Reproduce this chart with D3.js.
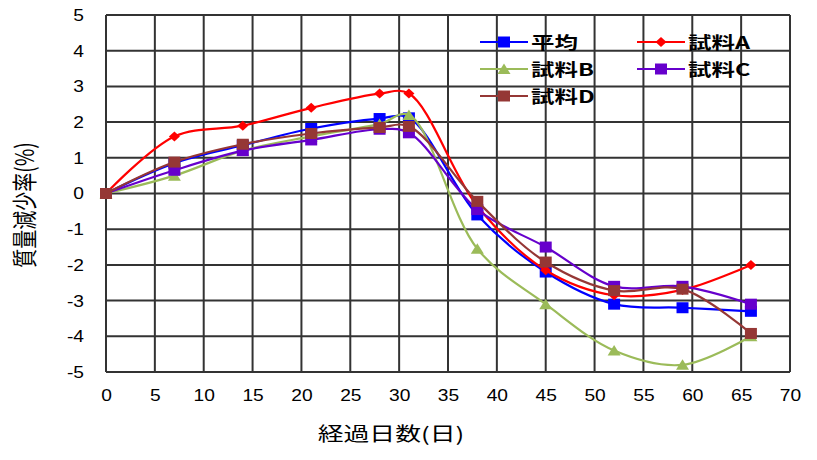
<!DOCTYPE html>
<html>
<head>
<meta charset="utf-8">
<script src="https://cdn.jsdelivr.net/npm/d3@7"></script>
<style>
  html, body { margin: 0; padding: 0; background: #fff; }
  svg { display: block; }
</style>
</head>
<body>
<svg id="chart" width="817" height="460"></svg>
<script>
// ---- data ----
const days = [0, 7, 14, 21, 28, 31, 38, 45, 52, 59, 66];
const seriesNames = ["平均", "試料A", "試料B", "試料C", "試料D"];
const avgValues = [0, 0.85, 1.35, 1.82, 2.1, 2.12, -0.6, -2.2, -3.1, -3.2, -3.3];
const aValues   = [0, 1.6, 1.9, 2.4, 2.8, 2.8, -0.35, -2.15, -2.85, -2.7, -2.0];
const bValues   = [0, 0.5, 1.2, 1.6, 1.95, 2.2, -1.55, -3.1, -4.4, -4.8, -4.0];
const cValues   = [0, 0.65, 1.2, 1.5, 1.8, 1.7, -0.45, -1.5, -2.6, -2.6, -3.1];
const dValues   = [0, 0.88, 1.38, 1.68, 1.85, 1.88, -0.22, -1.92, -2.72, -2.68, -3.92];
const xTicks = [0, 5, 10, 15, 20, 25, 30, 35, 40, 45, 50, 55, 60, 65, 70];
const yTicks = [-5, -4, -3, -2, -1, 0, 1, 2, 3, 4, 5];
const xTitle = "経過日数(日)";
const yTitle = "質量減少率(%)";

// ---- styles ----
const colors = ["#0000ff", "#ff0000", "#9bbb59", "#6600cc", "#953735"];
const markers = ["square", "diamond", "triangle", "square", "square"];
const allValues = [avgValues, aValues, bValues, cValues, dValues];

const svg = d3.select("#chart");
const x = d3.scaleLinear().domain([0, 70]).range([106, 790]);
const y = d3.scaleLinear().domain([-5, 5]).range([372, 15]);

// grid
const grid = svg.append("g");
grid.selectAll("line.v").data(xTicks).enter().append("line")
  .attr("x1", d => x(d)).attr("x2", d => x(d))
  .attr("y1", y(5)).attr("y2", y(-5))
  .attr("stroke", "#333").attr("stroke-width", 2);
grid.selectAll("line.h").data(yTicks).enter().append("line")
  .attr("x1", x(0)).attr("x2", x(70))
  .attr("y1", d => y(d)).attr("y2", d => y(d))
  .attr("stroke", "#333").attr("stroke-width", 2);

// axes (labels only)
const yAxis = d3.axisLeft(y).tickValues(yTicks).tickSize(0).tickPadding(0)
  .tickFormat(d => d3.format("d")(d).replace("−", "-"));
const yg = svg.append("g").attr("transform", `translate(${x(0)},0)`).call(yAxis);
yg.select(".domain").remove();
yg.selectAll("text")
  .attr("x", 0).attr("dy", null)
  .attr("dominant-baseline", "central")
  .attr("text-anchor", "end")
  .attr("transform", "translate(-22,0) scale(1.2,1)")
  .attr("font-family", "'Liberation Sans', Arial, sans-serif")
  .attr("font-size", 16).attr("fill", "#000");

const xAxis = d3.axisBottom(x).tickValues(xTicks).tickSize(0).tickPadding(0);
const xg = svg.append("g").attr("transform", `translate(0,${y(-5)})`).call(xAxis);
xg.select(".domain").remove();
xg.selectAll("text")
  .attr("y", 0).attr("dy", null)
  .attr("dominant-baseline", "central")
  .attr("transform", "translate(0,24) scale(1.2,1)")
  .attr("font-family", "'Liberation Sans', Arial, sans-serif")
  .attr("font-size", 16).attr("fill", "#000");

// titles
svg.append("text")
  .attr("transform", "translate(391,433) scale(1.36,1)")
  .attr("text-anchor", "middle").attr("dominant-baseline", "central")
  .attr("font-family", "'Noto Sans CJK JP', sans-serif")
  .attr("font-size", 19).text(xTitle);
svg.append("text")
  .attr("transform", "translate(23,205) scale(1.33,1) rotate(-90)")
  .attr("text-anchor", "middle").attr("dominant-baseline", "central")
  .attr("font-family", "'Noto Sans CJK JP', sans-serif")
  .attr("font-size", 19).text(yTitle);

// marker path generator
function markerPath(type) {
  if (type === "square") return "M-6,-5.5H6V5.5H-6Z";
  if (type === "diamond") return "M0,-5L5.5,0L0,5L-5.5,0Z";
  return "M0,-5.5L6.5,5L-6.5,5Z";
}

const line = d3.line()
  .x((d, i) => x(days[i]))
  .y(d => y(d))
  .curve(d3.curveCatmullRom.alpha(0.5));

allValues.forEach((vals, k) => {
  const g = svg.append("g");
  g.append("path").attr("d", line(vals))
    .attr("fill", "none").attr("stroke", colors[k]).attr("stroke-width", 2.2);
  g.selectAll("path.m").data(vals).enter().append("path")
    .attr("class", "m")
    .attr("transform", (d, i) => `translate(${x(days[i])},${y(d)})`)
    .attr("d", markerPath(markers[k]))
    .attr("fill", colors[k]);
});

// legend
const legendPos = [
  [480, 42], [637, 42], [480, 69], [637, 69], [480, 96]
];
seriesNames.forEach((name, k) => {
  const [lx, ly] = legendPos[k];
  const g = svg.append("g").attr("transform", `translate(${lx},${ly})`);
  g.append("line").attr("x1", 0).attr("x2", 48).attr("y1", 0).attr("y2", 0)
    .attr("stroke", colors[k]).attr("stroke-width", 2.2);
  g.append("path").attr("transform", "translate(24,0)")
    .attr("d", markerPath(markers[k])).attr("fill", colors[k]);
  g.append("text")
    .attr("transform", "translate(51,0) scale(1.38,1)")
    .attr("dominant-baseline", "central")
    .attr("font-family", "'Noto Sans CJK JP', sans-serif")
    .attr("font-size", 17).attr("font-weight", "bold")
    .text(name);
});
</script>
</body>
</html>
